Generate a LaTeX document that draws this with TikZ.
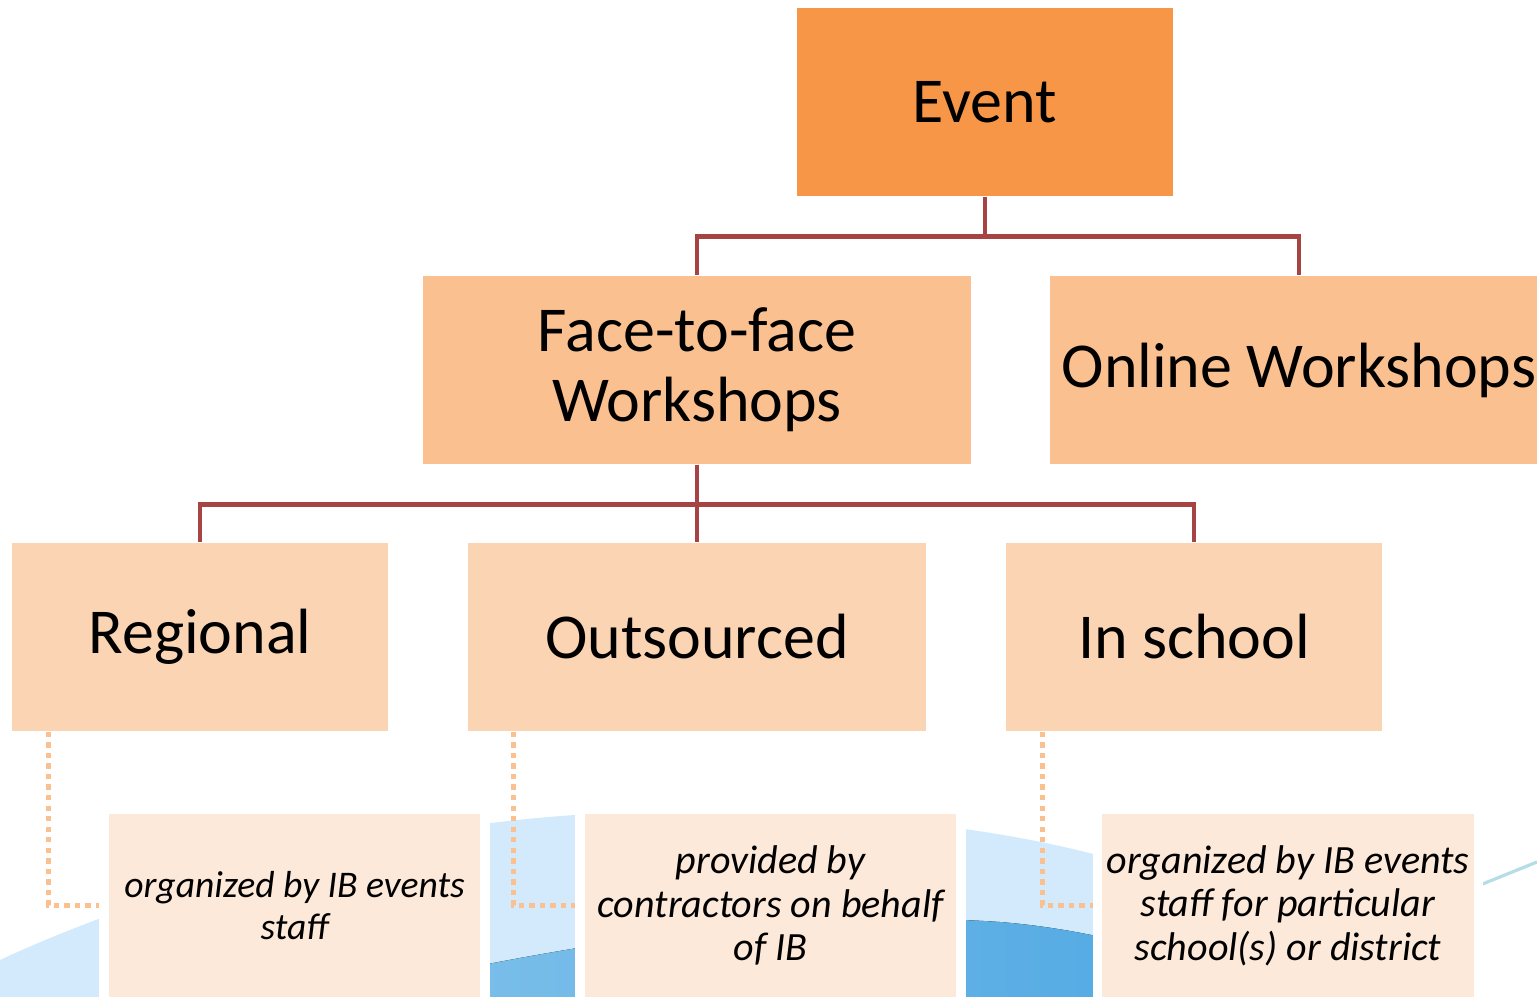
\documentclass[tikz,border=0pt]{standalone}
\usepackage{fontspec}
\setmainfont{Carlito}
\definecolor{eventorange}{HTML}{F79646}
\definecolor{midorange}{HTML}{FAC090}
\definecolor{lightorange}{HTML}{FBD4B4}
\definecolor{paleorange}{HTML}{FDE9D9}
\definecolor{linkred}{HTML}{A64343}
\definecolor{skylight}{HTML}{D2EAFB}
\definecolor{skyleft}{HTML}{82C2EB}
\definecolor{skyright}{HTML}{4AA6E2}
\definecolor{streak}{HTML}{B4DDE4}
\tikzset{
  box/.style = {rectangle, minimum height = 1.88cm, inner sep = 0pt, align = center,
    font = \fontsize{18.2}{20}\selectfont},
  notebox/.style = {rectangle, fill = paleorange, draw = white, line width = 2.8pt,
    minimum width = 3.81cm, minimum height = 1.93cm, inner sep = 0pt, align = center,
    font = \fontsize{11.4}{12.4}\selectfont\itshape},
  link/.style = {draw = linkred, line width = 1.4pt},
  dotlink/.style = {draw = midorange, line width = 1.5pt, dash pattern = on 1.5pt off 1.5pt}
}

\begin{document}
\begin{tikzpicture}
      \useasboundingbox (0, 0) rectangle (15.37, -9.97);
      \fill [skylight] (0, -9.97) -- (0, -9.60) .. controls (1.5, -8.9) and (4.0, -8.15) .. (6.5, -8.12)
        .. controls (9.0, -8.10) and (11.8, -8.3) .. (14.0, -9.97) -- cycle;
      \fill [left color = skyleft, right color = skyright] (3.3, -9.97) .. controls (5.0, -9.6) and (7.5, -9.05) .. (10.0, -9.22)
        .. controls (11.0, -9.3) and (12.0, -9.6) .. (13.0, -9.97) -- cycle;
      \draw [streak, line width = 0.9pt] (14.8, -8.85) -- (15.37, -8.62);
      \node [box, fill = eventorange, minimum width = 3.76cm] (event) at (9.85, -1.02) {Event};
      \node [box, fill = midorange, minimum width = 5.48cm] (facetoface) at (6.97, -3.70) {Face-to-face\\Workshops};
      \node [box, fill = midorange, minimum width = 4.98cm] (online) at (12.99, -3.70) {Online Workshops};
      \node [box, fill = lightorange, minimum width = 3.76cm] (regional) at (2.00, -6.37) {Regional};
      \node [box, fill = lightorange, minimum width = 4.58cm] (outsourced) at (6.97, -6.37) {Outsourced};
      \node [box, fill = lightorange, minimum width = 3.76cm] (inschool) at (11.94, -6.37) {In school};
      \node [notebox, font = \fontsize{10.7}{11.9}\selectfont\itshape] (regionalnote) at (2.945, -9.055) {organized by IB events\\staff};
      \node [notebox] (outsourcednote) at (7.705, -9.055) {provided by\\contractors on behalf\\of IB};
      \node [notebox] (inschoolnote) at (12.88, -9.055) {organized by IB events\\staff for particular\\school(s) or district};
      \foreach \level in {facetoface, online}{
        \draw [link] (event.south) -- ++(0, -0.4) -| (\level.north);
      }
      \foreach \kind in {regional, outsourced, inschool}{
        \draw [link] (facetoface.south) -- ++(0, -0.395) -| (\kind.north);
      }
      \draw [dotlink] ([xshift = 0.37cm] regional.south west) |- (regionalnote.west);
      \draw [dotlink] ([xshift = 0.46cm] outsourced.south west) |- (outsourcednote.west);
      \draw [dotlink] ([xshift = 0.37cm] inschool.south west) |- (inschoolnote.west);
    \end{tikzpicture}
\end{document}
